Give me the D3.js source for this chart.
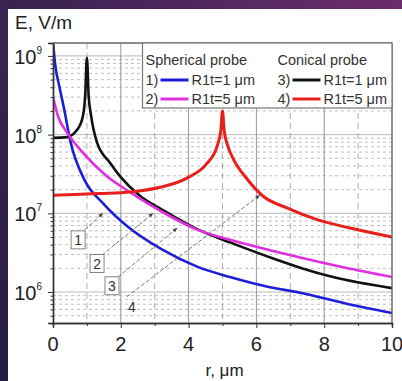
<!DOCTYPE html>
<html>
<head>
<meta charset="utf-8">
<script src="https://cdn.jsdelivr.net/npm/d3@7"></script>
<style>
body { margin: 0; background: #fff; }
svg { display: block; font-family: "Liberation Sans", Arial, sans-serif; }
</style>
</head>
<body>
<div id="chart"></div>
<script>
'use strict'

// 1) spherical probe, R1t = 1 um
var sph1R = [0, 0.06, 0.21, 0.35, 0.5, 0.94, 1.47, 2.2, 3.2, 4.25, 5.22, 6.4, 7.29, 8.6, 10]
var sph1E = [1.5e9, 8.1e8, 3.7e8, 1.9e8, 8.7e7, 2.6e7, 1.35e7, 6.8e6, 3.5e6, 2.1e6, 1.55e6, 1.15e6, 9.8e5, 7.2e5, 5.4e5]

// 2) spherical probe, R1t = 5 um
var sph5R = [0, 0.15, 0.41, 0.88, 1.59, 2.27, 3.3, 4.25, 5.22, 6.4, 7.29, 8.6, 10]
var sph5E = [3.0e8, 1.7e8, 1.07e8, 5.9e7, 2.95e7, 1.86e7, 1.0e7, 6.2e6, 4.6e6, 3.4e6, 2.75e6, 2.05e6, 1.55e6]

// 3) conical probe, R1t = 1 um
var con1R = [0, 0.41, 0.71, 0.88, 0.95, 1.0, 1.05, 1.12, 1.3, 1.68, 1.98, 2.57, 3.24, 4.25, 5.22, 6.6, 7.29, 8.26, 10]
var con1E = [9.1e7, 9.3e7, 1.15e8, 1.7e8, 3.16e8, 9.5e8, 3.16e8, 1.78e8, 7.9e7, 4.4e7, 2.95e7, 1.66e7, 1.1e7, 6.3e6, 4.27e6, 2.57e6, 2.04e6, 1.55e6, 1.12e6]

// 4) conical probe, R1t = 5 um
var con5R = [0, 1.39, 2.27, 3.16, 3.95, 4.54, 4.84, 4.95, 5.0, 5.05, 5.16, 5.31, 5.72, 6.19, 6.9, 7.79, 8.76, 10]
var con5E = [1.7e7, 1.78e7, 1.86e7, 2.14e7, 2.8e7, 4.3e7, 7.1e7, 1.12e8, 2.0e8, 1.12e8, 7.1e7, 5.0e7, 2.75e7, 1.66e7, 1.17e7, 8.3e6, 6.5e6, 5.0e6]

var xTicks = [0, 2, 4, 6, 8, 10]
var xMinor = [1, 3, 5, 7, 9]
var yDecades = [1e6, 1e7, 1e8, 1e9]
var yExponents = ['6', '7', '8', '9']

var seriesNames = ['1)', '2)', '3)', '4)']
var seriesLabels = ['R1t=1 \u03bcm', 'R1t=5 \u03bcm', 'R1t=1 \u03bcm', 'R1t=5 \u03bcm']
var groupTitles = ['Spherical probe', 'Conical probe']

// numbered call-outs: label spot and arrow tip, in data units
var noteText = ['1', '2', '3', '4']
var noteAt = [[0.74, 4.6e6], [1.30, 2.3e6], [1.74, 1.2e6], [2.33, 6.5e5]]
var noteFrom = [[0.94, 6.2e6], [1.45, 2.95e6], [1.92, 1.55e6], [2.18, 8.7e5]]
var noteTo = [[1.47, 1.0e7], [2.95, 1.0e7], [3.66, 6.5e6], [6.1, 1.7e7]]

var W = 402, H = 381
var margins = { top: 43, right: 10, bottom: 58, left: 53 }
var plotW = W - margins.left - margins.right
var plotH = H - margins.top - margins.bottom

var svg = d3.select('#chart').append('svg')
    .attr('width', W)
    .attr('height', H)

var defs = svg.append('defs')
var topGrad = defs.append('linearGradient').attr('id', 'topGrad')
topGrad.append('stop').attr('offset', '0%').attr('stop-color', '#35224f')
topGrad.append('stop').attr('offset', '100%').attr('stop-color', '#6c2c6c')
var sideGrad = defs.append('linearGradient').attr('id', 'sideGrad')
    .attr('x1', 0).attr('x2', 0).attr('y1', 0).attr('y2', 1)
sideGrad.append('stop').attr('offset', '0%').attr('stop-color', '#3a2552')
sideGrad.append('stop').attr('offset', '100%').attr('stop-color', '#261c44')

defs.append('clipPath').attr('id', 'plotClip')
    .append('rect').attr('x', 0).attr('y', 0).attr('width', plotW).attr('height', plotH)

defs.append('marker').attr('id', 'arrow')
    .attr('viewBox', '0 0 10 10').attr('refX', 9).attr('refY', 5)
    .attr('markerWidth', 6).attr('markerHeight', 6)
    .attr('orient', 'auto')
    .append('path').attr('d', 'M0,1 L10,5 L0,9 Z').attr('fill', '#444')

// slide frame
svg.append('rect').attr('width', W).attr('height', H).attr('fill', '#fff')
svg.append('rect').attr('width', W).attr('height', 9).attr('fill', 'url(#topGrad)')
svg.append('rect').attr('width', 8).attr('height', H).attr('fill', 'url(#sideGrad)')

var chart = svg.append('g')
    .attr('transform', 'translate(' + margins.left + ',' + margins.top + ')')

let x = d3.scaleLinear().domain([0, 10]).range([0, plotW])
let y = d3.scaleLog().domain([4.04e5, 1.46e9]).range([plotH, 0])

// grid
var yMinor = []
for (var p = 5; p <= 9; p++) {
    for (var m = 2; m <= 9; m++) {
        let v = m * Math.pow(10, p)
        if (v > y.domain()[0] && v < y.domain()[1]) yMinor.push(v)
    }
}

chart.append('g').selectAll('line').data(yMinor)
    .enter().append('line')
    .attr('x1', 0).attr('x2', plotW)
    .attr('y1', d => y(d)).attr('y2', d => y(d))
    .attr('stroke', '#b0b0b0').attr('stroke-width', 0.8)
    .attr('stroke-dasharray', '3,3')

chart.append('g').selectAll('line').data(yDecades)
    .enter().append('line')
    .attr('x1', 0).attr('x2', plotW)
    .attr('y1', d => y(d)).attr('y2', d => y(d))
    .attr('stroke', '#a8a8a8').attr('stroke-width', 0.8)

chart.append('g').selectAll('line').data(xMinor)
    .enter().append('line')
    .attr('x1', d => x(d)).attr('x2', d => x(d))
    .attr('y1', 0).attr('y2', plotH)
    .attr('stroke', '#9a9a9a').attr('stroke-width', 0.8)
    .attr('stroke-dasharray', '6,4')

chart.append('g').selectAll('line').data(xTicks.slice(1, -1))
    .enter().append('line')
    .attr('x1', d => x(d)).attr('x2', d => x(d))
    .attr('y1', 0).attr('y2', plotH)
    .attr('stroke', '#8a8a8a').attr('stroke-width', 0.9)

// curves
var lineGen = d3.line()
    .x(d => x(d[0]))
    .y(d => y(d[1]))
    .curve(d3.curveMonotoneX)

var zipPts = function(rs, es) {
    return rs.map((r, i) => [r, es[i]])
}

var curves = [
    { pts: zipPts(sph1R, sph1E), color: '#1d1fd6', w: 2.6 },
    { pts: zipPts(con1R, con1E), color: '#111111', w: 2.6 },
    { pts: zipPts(sph5R, sph5E), color: '#e02ee0', w: 2.6 },
    { pts: zipPts(con5R, con5E), color: '#e8201c', w: 3 }
]

var curveG = chart.append('g').attr('clip-path', 'url(#plotClip)')
curveG.selectAll('path').data(curves)
    .enter().append('path')
    .attr('d', c => lineGen(c.pts))
    .attr('fill', 'none')
    .attr('stroke', c => c.color)
    .attr('stroke-width', c => c.w)
    .attr('stroke-linejoin', 'round')

// call-outs
var notes = noteText.map((t, i) => ({ t: t, at: noteAt[i], from: noteFrom[i], to: noteTo[i] }))

chart.append('g').selectAll('line').data(notes)
    .enter().append('line')
    .attr('x1', n => x(n.from[0])).attr('y1', n => y(n.from[1]))
    .attr('x2', n => x(n.to[0])).attr('y2', n => y(n.to[1]))
    .attr('stroke', '#555').attr('stroke-width', 0.8)
    .attr('stroke-dasharray', '4,2')
    .attr('marker-end', 'url(#arrow)')

chart.append('g').selectAll('rect').data(notes.slice(0, 3))
    .enter().append('rect')
    .attr('x', n => x(n.at[0]) - 7).attr('y', n => y(n.at[1]) - 9)
    .attr('width', 14).attr('height', 18)
    .attr('fill', '#fff').attr('stroke', '#777').attr('stroke-width', 0.9)

chart.append('g').selectAll('text').data(notes)
    .enter().append('text')
    .attr('x', n => x(n.at[0])).attr('y', n => y(n.at[1]))
    .attr('text-anchor', 'middle').attr('dominant-baseline', 'central')
    .style('font-size', '14px').attr('fill', '#333')
    .text(n => n.t)

// axes
let xAxis = d3.axisBottom(x).tickValues(xTicks).tickSize(5).tickFormat('')
let xAxisMinor = d3.axisBottom(x).tickValues(xMinor).tickSize(3).tickFormat('')
let yAxis = d3.axisLeft(y).tickValues(yDecades).tickSize(5).tickFormat('')
let yAxisMinor = d3.axisLeft(y).tickValues(yMinor).tickSize(2.5).tickFormat('')

chart.append('g').attr('class', 'x axis')
    .attr('transform', 'translate(0,' + plotH + ')')
    .call(xAxis)
chart.append('g').attr('class', 'x axis')
    .attr('transform', 'translate(0,' + plotH + ')')
    .call(xAxisMinor)
chart.append('g').attr('class', 'y axis').call(yAxis)
chart.append('g').attr('class', 'y axis').call(yAxisMinor)

chart.selectAll('.axis path').attr('stroke', '#333').attr('stroke-width', 1.4)
chart.selectAll('.axis line').attr('stroke', '#333').attr('stroke-width', 1)

// frame top / right
chart.append('line').attr('x1', 0).attr('x2', plotW).attr('y1', 0).attr('y2', 0)
    .attr('stroke', '#666').attr('stroke-width', 1.4)
chart.append('line').attr('x1', plotW).attr('x2', plotW).attr('y1', 0).attr('y2', plotH)
    .attr('stroke', '#666').attr('stroke-width', 1.4)

// tick labels
chart.append('g').selectAll('text').data(xTicks)
    .enter().append('text')
    .attr('x', d => x(d)).attr('y', plotH + 21)
    .attr('text-anchor', 'middle').attr('dominant-baseline', 'central')
    .style('font-size', '20px').attr('fill', '#222')
    .text(d => d)

var yLab = chart.append('g').selectAll('text').data(yDecades)
    .enter().append('text')
    .attr('x', -11).attr('y', d => y(d) + 1)
    .attr('text-anchor', 'end').attr('dominant-baseline', 'central')
    .style('font-size', '20px').attr('fill', '#222')
yLab.append('tspan').text('10')
yLab.append('tspan').attr('dy', -7).style('font-size', '10px')
    .text((d, i) => yExponents[i])

// axis titles
svg.append('text').attr('x', 15).attr('y', 22)
    .attr('dominant-baseline', 'central')
    .style('font-size', '19px').attr('fill', '#222')
    .text('E, V/m')

svg.append('text').attr('x', margins.left + plotW / 2 + 2).attr('y', 370)
    .attr('text-anchor', 'middle').attr('dominant-baseline', 'central')
    .style('font-size', '17px').attr('fill', '#222')
    .text('r, \u03bcm')

// legend
var legend = chart.append('g')
    .attr('transform', 'translate(' + (x(2.64)) + ',0)')
var legW = plotW - x(2.64)
legend.append('rect').attr('width', legW).attr('height', 65)
    .attr('fill', '#fff').attr('stroke', '#777').attr('stroke-width', 1.2)

var legColors = ['#1d1fd6', '#e02ee0', '#111111', '#e8201c']
var colX = [3, 135]
groupTitles.forEach((t, i) => {
    legend.append('text').attr('x', colX[i]).attr('y', 17)
        .attr('dominant-baseline', 'central')
        .style('font-size', '14.5px').attr('fill', '#333')
        .text(t)
})
seriesNames.forEach((name, i) => {
    let cx = colX[Math.floor(i / 2)]
    let cy = 37 + (i % 2) * 19
    legend.append('text').attr('x', cx).attr('y', cy)
        .attr('dominant-baseline', 'central')
        .style('font-size', '14.5px').attr('fill', '#333')
        .text(name)
    legend.append('line')
        .attr('x1', cx + 15).attr('x2', cx + 43)
        .attr('y1', cy).attr('y2', cy)
        .attr('stroke', legColors[i]).attr('stroke-width', 3)
    legend.append('text').attr('x', cx + 46).attr('y', cy)
        .attr('dominant-baseline', 'central')
        .style('font-size', '14.5px').attr('fill', '#333')
        .text(seriesLabels[i])
})
</script>
</body>
</html>
